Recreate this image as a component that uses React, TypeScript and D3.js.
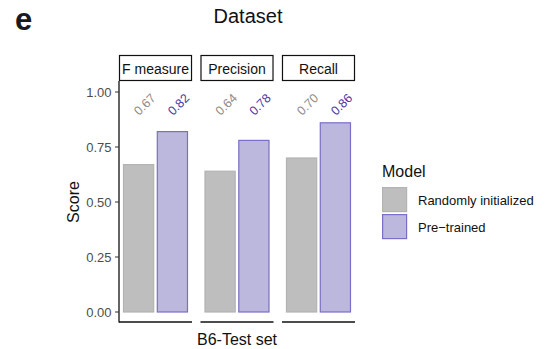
import React, { useRef, useEffect } from 'react';
import * as d3 from 'd3';

const metrics = ['F measure', 'Precision', 'Recall'];
const models = ['Randomly initialized', 'Pre\u2212trained'];
const randomScores = [0.67, 0.64, 0.70];
const pretrainedScores = [0.82, 0.78, 0.86];
const yTicks = [0, 0.25, 0.5, 0.75, 1.0];

const fills = ['#bebebe', '#bcb7dc'];
const strokes = ['#b3b3b3', '#7a6fc4'];
const labelColors = ['#8c8c8c', '#4a3aa6'];
const FONT = '"Liberation Sans", Arial, Helvetica, sans-serif';

function App() {
  const svgRef = useRef(null);

  useEffect(() => {
    const svg = d3.select(svgRef.current);
    svg.selectAll('*').remove();

    const panelTop = 81;
    const panelBottom = 322;

    const x = d3.scaleBand().domain(metrics).range([119, 355]).paddingInner(0.104);
    const xm = d3.scaleBand().domain(models).range([4, 69]).paddingInner(0.077);
    const y = d3.scaleLinear().domain([0, 1]).range([312, 92]);

    const rows = metrics.map((m, i) => ({
      metric: m,
      values: [randomScores[i], pretrainedScores[i]],
    }));

    // title + panel letter
    svg.append('text')
      .attr('x', 15).attr('y', 30)
      .attr('font-size', 31).attr('font-weight', 'bold')
      .attr('fill', '#1a1a1a')
      .text('e');

    svg.append('text')
      .attr('x', 248).attr('y', 23)
      .attr('text-anchor', 'middle')
      .attr('font-size', 20)
      .attr('fill', '#111')
      .text('Dataset');

    const panel = svg.selectAll('g.panel')
      .data(rows)
      .join('g')
      .attr('class', 'panel')
      .attr('transform', d => `translate(${x(d.metric)},0)`);

    // strip boxes
    panel.append('rect')
      .attr('x', 0.5).attr('y', 55.5)
      .attr('width', x.bandwidth() - 1).attr('height', 25)
      .attr('fill', 'white')
      .attr('stroke', '#111').attr('stroke-width', 1.2);

    panel.append('text')
      .attr('x', x.bandwidth() / 2).attr('y', 68.5)
      .attr('text-anchor', 'middle')
      .attr('dominant-baseline', 'central')
      .attr('font-size', 14)
      .attr('fill', '#111')
      .text(d => d.metric);

    // bars
    panel.selectAll('rect.bar')
      .data(d => d.values.map((v, k) => ({ v, k })))
      .join('rect')
      .attr('class', 'bar')
      .attr('x', d => xm(models[d.k]) + 0.5)
      .attr('y', d => y(d.v))
      .attr('width', xm.bandwidth() - 1)
      .attr('height', d => y(0) - y(d.v))
      .attr('fill', d => fills[d.k])
      .attr('stroke', d => strokes[d.k])
      .attr('stroke-width', 1.2);

    // value labels
    panel.selectAll('text.val')
      .data(d => d.values.map((v, k) => ({ v, k })))
      .join('text')
      .attr('class', 'val')
      .attr('transform', d => `translate(${xm(models[d.k]) + xm.bandwidth() / 2 + 0.5},${y(0.9) + 2})rotate(-45)`)
      .attr('font-size', 12.5)
      .attr('fill', d => labelColors[d.k])
      .text(d => d.v.toFixed(2));

    // x axis lines per panel
    panel.append('line')
      .attr('x1', 0).attr('x2', x.bandwidth())
      .attr('y1', panelBottom).attr('y2', panelBottom)
      .attr('stroke', '#111').attr('stroke-width', 1.3);

    // y axis
    svg.append('line')
      .attr('x1', 119).attr('x2', 119)
      .attr('y1', panelTop).attr('y2', panelBottom + 0.6)
      .attr('stroke', '#111').attr('stroke-width', 1.3);

    const ticks = svg.selectAll('g.tick')
      .data(yTicks)
      .join('g')
      .attr('class', 'tick')
      .attr('transform', d => `translate(0,${y(d)})`);

    ticks.append('line')
      .attr('x1', 115).attr('x2', 119)
      .attr('stroke', '#333').attr('stroke-width', 1);

    ticks.append('text')
      .attr('x', 111.5)
      .attr('text-anchor', 'end')
      .attr('dominant-baseline', 'central')
      .attr('font-size', 13)
      .attr('fill', '#4d4d4d')
      .text(d => d3.format('.2f')(d));

    // axis titles
    svg.append('text')
      .attr('transform', 'translate(79,202) rotate(-90)')
      .attr('text-anchor', 'middle')
      .attr('font-size', 16)
      .attr('fill', '#111')
      .text('Score');

    svg.append('text')
      .attr('x', 237).attr('y', 345)
      .attr('text-anchor', 'middle')
      .attr('font-size', 16)
      .attr('fill', '#111')
      .text('B6-Test set');

    // legend
    const legend = svg.append('g').attr('transform', 'translate(382,0)');
    legend.append('text')
      .attr('x', 0).attr('y', 177)
      .attr('font-size', 16)
      .attr('fill', '#111')
      .text('Model');

    const items = legend.selectAll('g.item')
      .data(models)
      .join('g')
      .attr('class', 'item')
      .attr('transform', (d, i) => `translate(0,${187 + i * 27})`);

    items.append('rect')
      .attr('x', 0.6).attr('y', 0.6)
      .attr('width', 24).attr('height', 24)
      .attr('fill', (d, i) => fills[i])
      .attr('stroke', (d, i) => strokes[i])
      .attr('stroke-width', 1.2);

    items.append('text')
      .attr('x', 36).attr('y', 13)
      .attr('dominant-baseline', 'central')
      .attr('font-size', 13)
      .attr('fill', '#111')
      .text(d => d);
  }, []);

  return (
    <svg
      ref={svgRef}
      width={547}
      height={349}
      style={{ position: 'absolute', left: 0, top: 0, background: 'white', fontFamily: FONT }}
    />
  );
}

export default App;
